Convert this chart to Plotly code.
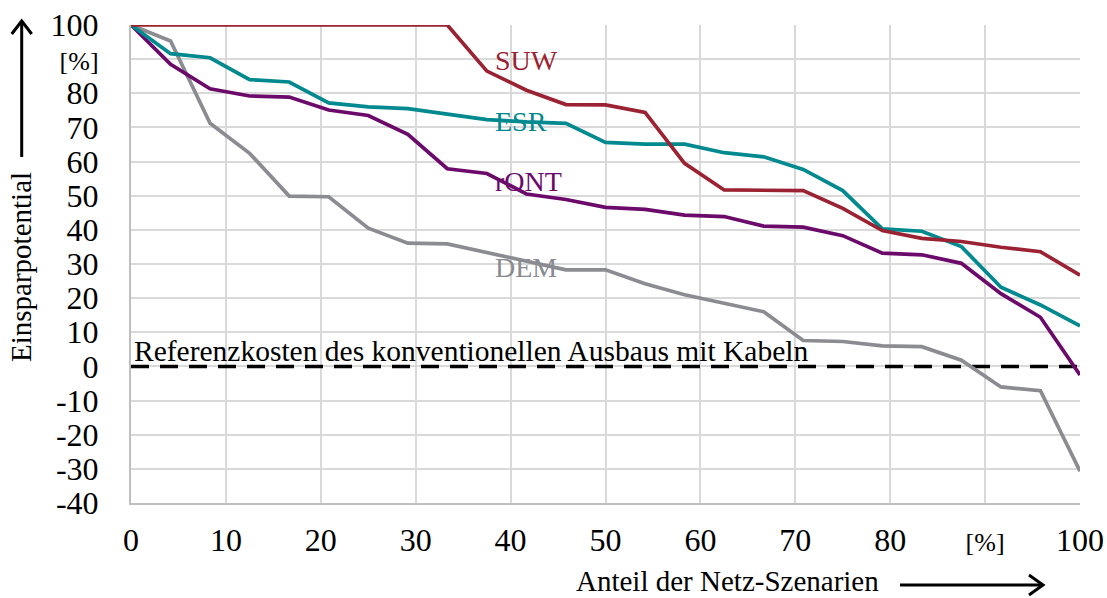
import plotly.graph_objects as go

# Scenario share (x) – 24 network scenarios, 0..100 %
x_share = [0, 4.17, 8.33, 12.5, 16.67, 20.83, 25, 29.17, 33.33, 37.5, 41.67, 45.83,
           50, 54.17, 58.33, 62.5, 66.67, 70.83, 75, 79.17, 83.33, 87.5, 91.67, 95.83, 100]

suw = [100, 100, 100, 100, 100, 100, 100, 100, 100, 86.5, 80.9, 76.7,
       76.6, 74.4, 59.5, 51.7, 51.6, 51.5, 46.3, 39.8, 37.5, 36.6, 34.9, 33.6, 26.7]
esr = [100, 91.6, 90.4, 84.0, 83.3, 77.2, 76.0, 75.5, 73.9, 72.3, 71.6, 71.2,
       65.6, 65.1, 65.1, 62.6, 61.4, 57.7, 51.5, 40.3, 39.6, 35.1, 23.2, 18.0, 11.9]
ront = [100, 88.5, 81.3, 79.2, 78.9, 75.1, 73.5, 68.0, 57.9, 56.5, 50.5, 48.9,
        46.6, 46.0, 44.3, 43.9, 41.1, 40.8, 38.3, 33.2, 32.7, 30.2, 21.3, 14.4, -2.5]
dem = [100, 95.3, 71.2, 62.4, 49.9, 49.7, 40.5, 36.1, 35.9, 33.4, 30.9, 28.3,
       28.3, 24.2, 21.0, 18.5, 16.0, 7.6, 7.3, 6.0, 5.8, 1.8, -6.0, -7.1, -30.7]

ref_x = [0, 100]
ref_y = [0, 0]

series_names = ["DEM", "rONT", "ESR", "SUW"]
series_values = [dem, ront, esr, suw]
series_colors = ["#8b8b92", "#6b0a6b", "#00898f", "#9b2232"]
# label positions (data coords)
label_x = [38.3, 38.3, 38.3, 38.3]
label_y = [29.1, 54.1, 71.6, 89.5]

x_ticks = [0, 10, 20, 30, 40, 50, 60, 70, 80, 90, 100]
x_ticktext = ["0", "10", "20", "30", "40", "50", "60", "70", "80",
              "<span style='font-size:26px'>[%]</span>", "100"]
y_ticks = [-40, -30, -20, -10, 0, 10, 20, 30, 40, 50, 60, 70, 80, 90, 100]
y_ticktext = ["-40", "-30", "-20", "-10", "0", "10", "20", "30", "40", "50", "60",
              "70", "80", "<span style='font-size:26px'>[%]</span>", "100"]

FONT = "Liberation Serif, Times New Roman, serif"

W, H = 1107, 598
L, T, R, B = 131, 25, 1080, 503  # plot area in pixels

fig = go.Figure()

fig.add_trace(go.Scatter(x=ref_x, y=ref_y, mode="lines",
                         line=dict(color="black", width=3.5, dash="18px,11px"),
                         hoverinfo="skip", showlegend=False, cliponaxis=False))

for name, vals, col in zip(series_names, series_values, series_colors):
    fig.add_trace(go.Scatter(x=x_share, y=vals, mode="lines", name=name,
                             line=dict(color=col, width=3.7),
                             showlegend=False, cliponaxis=False))

annotations = []
for name, col, lx, ly in zip(series_names, series_colors, label_x, label_y):
    annotations.append(dict(x=lx, y=ly, xref="x", yref="y", text=name, showarrow=False,
                            xanchor="left", yanchor="middle", xshift=-1,
                            font=dict(family=FONT, size=28, color=col)))

annotations.append(dict(x=0.1, y=0, xref="x", yref="y",
                        text="Referenzkosten des konventionellen Ausbaus mit Kabeln",
                        showarrow=False, xanchor="left", yanchor="bottom", yshift=-3,
                        font=dict(family=FONT, size=29.5, color="black")))


def px(X):
    return (X - L) / (R - L)


def py(Y):
    return (B - Y) / (B - T)


# axis titles
annotations.append(dict(x=px(21), y=py(267), xref="paper", yref="paper",
                        text="Einsparpotential", textangle=-90, showarrow=False,
                        xanchor="center", yanchor="middle",
                        font=dict(family=FONT, size=29, color="black")))
annotations.append(dict(x=px(727), y=py(581), xref="paper", yref="paper",
                        text="Anteil der Netz-Szenarien", showarrow=False,
                        xanchor="center", yanchor="middle", borderpad=0,
                        font=dict(family=FONT, size=29, color="black")))

shapes = [
    # y-axis arrow
    dict(type="line", xref="paper", yref="paper", x0=px(21.7), x1=px(21.7),
         y0=py(157), y1=py(22), line=dict(color="black", width=3)),
    dict(type="path", xref="paper", yref="paper",
         path=f"M {px(11.7)} {py(34)} L {px(21.7)} {py(21)} L {px(31.7)} {py(34)}",
         line=dict(color="black", width=3)),
    # x-axis arrow
    dict(type="line", xref="paper", yref="paper", x0=px(900), x1=px(1042),
         y0=py(585), y1=py(585), line=dict(color="black", width=3)),
    dict(type="path", xref="paper", yref="paper",
         path=f"M {px(1029)} {py(575)} L {px(1043)} {py(585)} L {px(1029)} {py(595)}",
         line=dict(color="black", width=3)),
]

fig.update_layout(
    width=W, height=H,
    margin=dict(l=L, r=W - R, t=T, b=H - B, autoexpand=False),
    paper_bgcolor="white", plot_bgcolor="white",
    font=dict(family=FONT, color="black"),
    annotations=annotations, shapes=shapes,
    xaxis=dict(range=[0, 100], tickvals=x_ticks, ticktext=x_ticktext,
               showgrid=True, gridcolor="#d9d9d9", gridwidth=1.5,
               zeroline=False, showline=True, linecolor="#bfbfbf", linewidth=2,
               ticks="", tickfont=dict(family=FONT, size=32, color="black"),
               ticklabelstandoff=8, ticklabeloverflow="allow",
               automargin=False, fixedrange=True),
    yaxis=dict(range=[-40, 100], tickvals=y_ticks, ticktext=y_ticktext,
               showgrid=True, gridcolor="#d9d9d9", gridwidth=1.5,
               zeroline=False, showline=True, linecolor="#bfbfbf", linewidth=2,
               ticks="", tickfont=dict(family=FONT, size=32, color="black"),
               ticklabelstandoff=24, ticklabeloverflow="allow",
               automargin=False, fixedrange=True),
)

# remove the default 8px page margin so the figure fills the window exactly
fig.write_html("out.html", config={"displayModeBar": False},
               post_script="document.body.style.margin='0';")
